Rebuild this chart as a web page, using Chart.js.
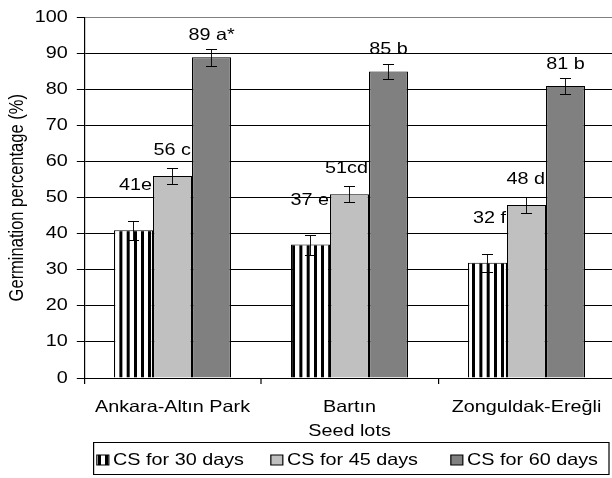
<!DOCTYPE html>
<html>
<head>
<meta charset="utf-8">
<script src="https://cdn.jsdelivr.net/npm/chart.js@4"></script>
<style>
  body { margin: 0; background: #fff; }
  #wrap { width: 612px; height: 478px; overflow: hidden; }
</style>
</head>
<body>
<div id="wrap"><canvas id="chart" width="524" height="478"></canvas></div>
<script>
// the original figure is stretched sideways, so the chart is drawn narrow and scaled in x
const SX = 1.2;

const seedLots = ['Ankara-Altın Park', 'Bartın', 'Zonguldak-Ereğli'];
const seriesNames = ['CS for 30 days', 'CS for 45 days', 'CS for 60 days'];
const cs30 = [41, 37, 32];
const cs45 = [56, 51, 48];
const cs60 = [89, 85, 81];
const err30 = [2.6, 2.8, 2.5];
const err45 = [2.2, 2.3, 2.2];
const err60 = [2.4, 2.1, 2.3];
const lbl30 = ['41e', '37 e', '32 f'];
const lbl45 = ['56 c', '51cd', '48 d'];
const lbl60 = ['89 a*', '85 b', '81 b'];
const yTicks = [0, 10, 20, 30, 40, 50, 60, 70, 80, 90, 100];

const FONT = { family: "'Liberation Sans', Arial, sans-serif", size: 16.5 };

function stripes() {
    // drawn at double width, then halved, so a stripe can be 2.5 units wide
    const c = document.createElement('canvas');
    c.width = 12;
    c.height = 4;
    const g = c.getContext('2d');
    g.fillStyle = '#fff';
    g.fillRect(0, 0, 12, 4);
    g.fillStyle = '#000';
    g.fillRect(7, 0, 5, 4);
    const p = g.createPattern(c, 'repeat');
    p.setTransform(new DOMMatrix([0.5, 0, 0, 1, 0, 0]));
    return p;
}

const stretch = {
    id: 'stretch',
    beforeDraw(chart) {
        chart.ctx.setTransform(SX, 0, 0, 1, 0, 0);
    }
};

// value labels sit under the bars of later series (the "48 d" is cut by its neighbour)
const labelLift = [12.3, 7, 6];
const valueLabels = {
    id: 'valueLabels',
    beforeDatasetsDraw(chart) {
        const ctx = chart.ctx, y = chart.scales.y;
        ctx.save();
        ctx.font = `${FONT.size}px ${FONT.family}`;
        ctx.fillStyle = '#000';
        ctx.textBaseline = 'middle';
        chart.data.datasets.forEach((ds, i) => {
            chart.getDatasetMeta(i).data.forEach((bar, j) => {
                const ty = y.getPixelForValue(ds.data[j] + labelLift[i]);
                if (i < 2) {
                    ctx.textAlign = 'right';
                    ctx.fillText(ds.valueLabels[j], bar.x + bar.width / 2 - 1 / SX, ty);
                } else {
                    ctx.textAlign = 'center';
                    ctx.fillText(ds.valueLabels[j], bar.x, ty);
                }
            });
        });
        ctx.restore();
    }
};

const errorBars = {
    id: 'errorBars',
    afterDatasetsDraw(chart) {
        const ctx = chart.ctx, y = chart.scales.y;
        const cap = 4.6;
        ctx.save();
        ctx.strokeStyle = '#000';
        chart.data.datasets.forEach((ds, i) => {
            chart.getDatasetMeta(i).data.forEach((bar, j) => {
                const top = Math.round(y.getPixelForValue(ds.data[j] + ds.errors[j])) + 0.5;
                const bot = Math.round(y.getPixelForValue(ds.data[j] - ds.errors[j])) + 0.5;
                ctx.lineWidth = 1;
                ctx.beginPath();
                ctx.moveTo(bar.x - cap, top);
                ctx.lineTo(bar.x + cap, top);
                ctx.moveTo(bar.x - cap, bot);
                ctx.lineTo(bar.x + cap, bot);
                ctx.stroke();
                ctx.lineWidth = 1 / SX;
                ctx.beginPath();
                ctx.moveTo(bar.x, top);
                ctx.lineTo(bar.x, bot);
                ctx.stroke();
            });
        });
        ctx.restore();
    }
};

const boxLegend = {
    id: 'boxLegend',
    afterDraw(chart) {
        const ctx = chart.ctx;
        const textX = [94.2, 239.2, 389.2];
        const cy = 460;
        ctx.save();
        ctx.lineWidth = 1;
        ctx.strokeStyle = '#000';
        ctx.strokeRect(78, 442.5, 429.5, 32);
        ctx.font = `${FONT.size}px ${FONT.family}`;
        ctx.textBaseline = 'middle';
        ctx.textAlign = 'left';
        chart.data.datasets.forEach((ds, i) => {
            ctx.fillStyle = ds.backgroundColor;
            ctx.fillRect(textX[i] - 13.5, cy - 5, 10, 10);
            ctx.strokeRect(textX[i] - 13.5, cy - 5, 10, 10);
            ctx.fillStyle = '#000';
            ctx.fillText(ds.label, textX[i], cy);
        });
        ctx.restore();
    }
};

const canvas = document.getElementById('chart');
const chart = new Chart(canvas, {
    type: 'bar',
    data: {
        labels: seedLots,
        datasets: [
            { label: seriesNames[0], data: cs30, errors: err30, valueLabels: lbl30, backgroundColor: stripes() },
            { label: seriesNames[1], data: cs45, errors: err45, valueLabels: lbl45, backgroundColor: '#c0c0c0' },
            { label: seriesNames[2], data: cs60, errors: err60, valueLabels: lbl60, backgroundColor: '#808080' }
        ]
    },
    options: {
        responsive: false,
        animation: false,
        devicePixelRatio: 1,
        datasets: {
            bar: {
                borderColor: '#000',
                borderWidth: 1,
                categoryPercentage: 0.661,
                barPercentage: 1
            }
        },
        layout: { padding: { top: 15, right: 11.5, bottom: 0, left: 0 } },
        plugins: {
            legend: { display: false },
            tooltip: { enabled: false }
        },
        scales: {
            x: {
                afterFit(scale) { scale.height = 100; },
                grid: {
                    drawOnChartArea: false,
                    offset: true,
                    tickLength: 6,
                    color: '#000'
                },
                border: { color: '#000', width: 1 },
                ticks: { color: '#000', font: FONT, padding: 14, maxRotation: 0 },
                title: {
                    display: true,
                    text: 'Seed lots',
                    color: '#000',
                    font: FONT,
                    padding: { top: 0, bottom: 37 }
                }
            },
            y: {
                min: 0,
                max: 100,
                afterFit(scale) { scale.width = 70; },
                afterBuildTicks(scale) { scale.ticks = yTicks.map(v => ({ value: v })); },
                grid: {
                    color: (c) => c.tick && c.tick.value === 100 ? '#808080' : '#000',
                    tickColor: '#000',
                    tickLength: 6
                },
                border: { color: '#000', width: 1 },
                ticks: { color: '#000', font: FONT, padding: 7.6 },
                title: {
                    display: true,
                    text: 'Germination percentage (%)',
                    color: '#000',
                    font: FONT,
                    padding: { top: 5, bottom: 0 }
                }
            }
        }
    },
    plugins: [stretch, valueLabels, errorBars, boxLegend]
});

canvas.width = Math.ceil(chart.width * SX);
canvas.style.width = canvas.width + 'px';
chart.draw();
</script>
</body>
</html>
